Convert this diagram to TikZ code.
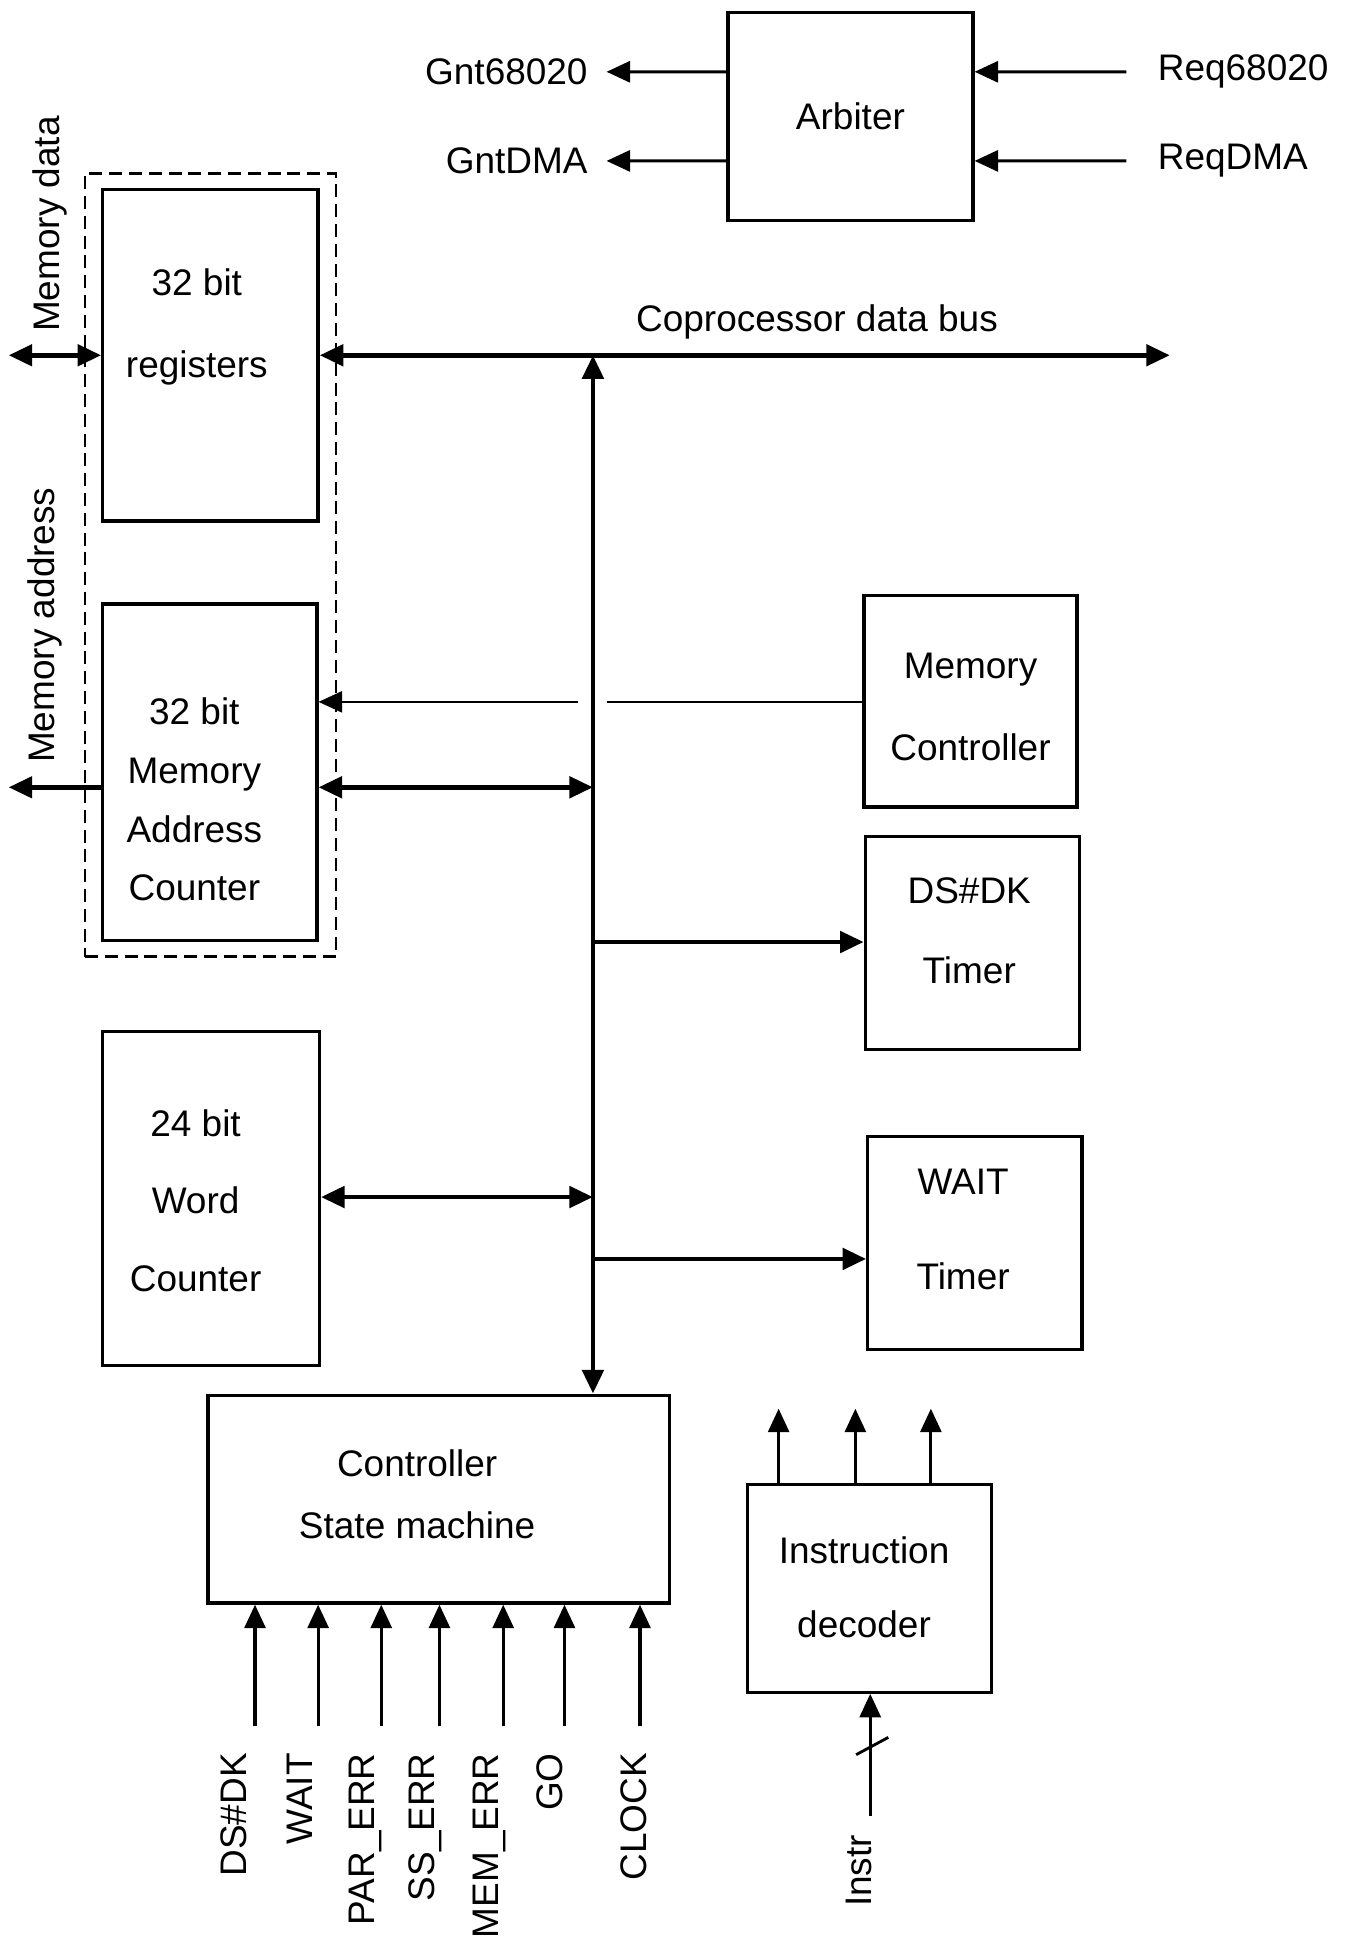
\documentclass[tikz,border=0pt]{standalone}
\usepackage{fontspec}
\setmainfont{Liberation Sans}
\usetikzlibrary{arrows.meta, positioning, fit}

\begin{document}
\begin{tikzpicture}[x=0.02cm, y=-0.02cm, font=\fontsize{17}{20}\selectfont,
    block/.style={rectangle, draw, line width=1.5pt, inner sep=0pt},
    txt/.style={align=center, inner sep=0pt},
    sig/.style={rotate=90, anchor=east, inner sep=0pt, text height=0.72em, text depth=0pt},
    line/.style={draw, line width=1.4pt, -{Triangle[length=0.38cm, width=0.34cm]}},
    bus/.style={draw, line width=2.2pt, -{Triangle[length=0.38cm, width=0.34cm]}},
    dbus/.style={bus, {Triangle[length=0.38cm, width=0.34cm]}-{Triangle[length=0.38cm, width=0.34cm]}}]

    \useasboundingbox (0,0) rectangle (1087,1568);

    % arbiter
    \node [block, minimum width=3.96cm, minimum height=3.36cm] (arb) at (687,94) {Arbiter};
    \node [anchor=east, inner xsep=0.3cm] (gnt68) at (490,58) {Gnt68020};
    \node [anchor=east, inner xsep=0.3cm] (gntdma) at (490,130) {GntDMA};
    \node [anchor=west, inner xsep=0.5cm] (req68) at (910,58) {Req68020};
    \node [anchor=west, inner xsep=0.5cm] (reqdma) at (910,130) {ReqDMA};

    \path [line] ([yshift=0.72cm]arb.west) -- (gnt68);
    \path [line] ([yshift=-0.72cm]arb.west) -- (gntdma);
    \path [line] (req68) -- ([yshift=0.72cm]arb.east);
    \path [line] (reqdma) -- ([yshift=-0.72cm]arb.east);

    % left column
    \node [block, minimum width=3.48cm, minimum height=5.36cm] (reg) at (170,287) {};
    \node [txt, font=\fontsize{17}{38}\selectfont] (regtxt) at (159,264) {32 bit\\registers};
    \node [block, minimum width=3.46cm, minimum height=5.44cm] (mac) at (169.5,624) {};
    \node [txt, font=\fontsize{17}{27}\selectfont] (mactxt) at (157,646) {32 bit\\Memory\\Address\\Counter};
    \node [block, minimum width=3.5cm, minimum height=5.4cm] (wc) at (170.5,968) {};
    \node [txt, font=\fontsize{17}{35.5}\selectfont] (wctxt) at (158,970) {24 bit\\Word\\Counter};
    \node [draw, dashed, dash pattern=on 0.21cm off 0.11cm, line width=1.2pt,
           inner xsep=0.26cm, inner ysep=0.23cm, fit=(reg)(mac)] (grp) {};

    % right column
    \node [block, minimum width=3.44cm, minimum height=3.42cm] (mc) at (784,566.5) {};
    \node [txt, font=\fontsize{17}{38}\selectfont] (mctxt) at (784,571) {Memory\\Controller};
    \node [block, minimum width=3.46cm, minimum height=3.44cm] (dst) at (785.5,762) {};
    \node [txt, font=\fontsize{17}{37}\selectfont] (dsttxt) at (783,752) {DS\#DK\\Timer};
    \node [block, minimum width=3.46cm, minimum height=3.44cm] (wt) at (787.5,1004) {};
    \node [txt, font=\fontsize{17}{43.7}\selectfont] (wttxt) at (778,993) {WAIT\\Timer};

    % bottom
    \node [block, minimum width=7.46cm, minimum height=3.36cm] (csm) at (354.5,1211) {};
    \node [txt, font=\fontsize{17}{28.5}\selectfont] (csmtxt) at (337,1207) {Controller\\State machine};
    \node [block, minimum width=3.94cm, minimum height=3.36cm] (dec) at (702.5,1283) {};
    \node [txt, font=\fontsize{17}{34}\selectfont] (dectxt) at (698,1282) {Instruction\\decoder};

    % memory side
    \coordinate (mdata) at (7,287);
    \coordinate (maddr) at (7,636);
    \node [rotate=90] (mdatatxt) at (40,181) {Memory data};
    \node [rotate=90] (maddrtxt) at (36,505) {Memory address};
    \path [dbus] (mdata) -- (reg.west);
    \path [bus] (mac.west |- maddr) -- (maddr);

    % coprocessor data bus
    \coordinate (busend) at (945,287);
    \coordinate (busjoin) at (479,287);
    \node (bustxt) at (660,260) {Coprocessor data bus};
    \path [dbus] (reg.east) -- (busend);
    \path [dbus] (busjoin) -- (busjoin |- csm.north);

    \coordinate (tapmac) at (479,636);
    \coordinate (tapdst) at (479,761);
    \coordinate (tapwc) at (479,967);
    \coordinate (tapwt) at (479,1017);
    \path [dbus] (mac.east |- tapmac) -- (tapmac);
    \path [bus] (tapdst) -- (dst.west |- tapdst);
    \path [dbus] (wc.east |- tapwc) -- (tapwc);
    \path [bus] (tapwt) -- (wt.west |- tapwt);

    % memory controller line, broken at the bus
    \coordinate (gapr) at (490,567);
    \coordinate (gapl) at (467,567);
    \draw [line width=1pt] (mc.west |- gapr) -- (gapr);
    \path [line, line width=1pt] (gapl) -- (mac.east |- gapl);

    % controller inputs
    \foreach \ax/\tx/\lbl/\nm in {206/192.5/DS\#DK/dsdk, 257/246/WAIT/wait,
        308/296.5/PAR\_ERR/parerr, 355/345/SS\_ERR/sserr, 406.5/396/MEM\_ERR/memerr,
        456/448/GO/go, 517/516/CLOCK/clock}
    {
        \coordinate (in-\nm) at (\ax,1394);
        \node [sig] (sig-\nm) at (\tx,1416) {\lbl};
        \path [line] (in-\nm) -- (in-\nm |- csm.south);
    }

    % decoder
    \foreach \ox/\nm in {629/one, 691/two, 752/three}
    {
        \coordinate (out-\nm) at (\ox,1138);
        \path [line] (dec.north -| out-\nm) -- (out-\nm);
    }
    \coordinate (instrin) at (703,1467);
    \coordinate (busmark) at (704.6,1410.5);
    \node [sig] (instr) at (698,1482) {Instr};
    \path [line] (instrin) -- (instrin |- dec.south);
    \draw [line width=1.3pt] ([shift={(-13,7)}]busmark) -- ([shift={(13,-7)}]busmark);
\end{tikzpicture}
\end{document}
